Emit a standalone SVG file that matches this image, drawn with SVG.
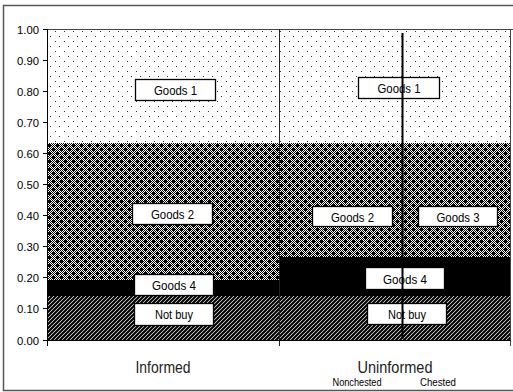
<svg xmlns="http://www.w3.org/2000/svg" width="513" height="392" viewBox="0 0 513 392">
  <style>
    .tick { stroke: #000; stroke-width: 1; }
    .ylab { font-family: "Liberation Sans", Arial, sans-serif; font-size: 10.5px; text-anchor: end; fill: #000; }
    .cat { font-family: "Liberation Sans", Arial, sans-serif; font-size: 17px; text-anchor: middle; fill: #222; }
    .sub { font-family: "Liberation Sans", Arial, sans-serif; font-size: 10px; text-anchor: middle; fill: #000; }
    .box rect { fill: #fff; stroke: #000; stroke-width: 1.3; }
    .box text { font-family: "Liberation Sans", Arial, sans-serif; font-size: 12.5px; text-anchor: middle; fill: #000; }
  </style>
  <defs>
    <!-- sparse staggered dots -->
    <pattern id="dots" width="9" height="10" patternUnits="userSpaceOnUse">
      <rect width="9" height="10" fill="#fff"/>
      <rect x="1" y="1" width="1" height="1" fill="#333"/>
      <rect x="5" y="6" width="1" height="1" fill="#333"/>
    </pattern>
    <!-- 1px checker dither -->
    <pattern id="chk" width="2" height="2" patternUnits="userSpaceOnUse">
      <rect width="2" height="2" fill="#fff"/>
      <rect width="1" height="1" fill="#000"/>
      <rect x="1" y="1" width="1" height="1" fill="#000"/>
    </pattern>
    <!-- checker with small crosses -->
    <pattern id="cross" width="8" height="8" patternUnits="userSpaceOnUse">
      <rect width="8" height="8" fill="url(#chk)"/>
      <path d="M1,0h1v3h-1zM0,1h3v1h-3zM5,4h1v3h-1zM4,5h3v1h-3z" fill="#000"/>
    </pattern>
    <!-- dense diagonal hatching -->
    <pattern id="hatch" width="4" height="4" patternUnits="userSpaceOnUse">
      <rect width="4" height="4" fill="#fff"/>
      <path d="M-1,1L1,-1M0,4L4,0M3,5L5,3" stroke="#000" stroke-width="2.2"/>
    </pattern>
  </defs>

  <rect width="513" height="392" fill="#fff"/>
  <!-- outer frame -->
  <rect x="3.5" y="5.5" width="515" height="385" fill="none" stroke="#555" stroke-width="1.5"/>

  <!-- stacked bars -->
  <g id="informed-bar">
    <rect x="47" y="29" width="232" height="114" fill="url(#dots)"/>
    <rect x="47" y="143" width="232" height="137" fill="url(#cross)"/>
    <rect x="47" y="280" width="232" height="16" fill="#000"/>
    <rect x="47" y="296" width="232" height="44" fill="url(#hatch)"/>
  </g>
  <g id="uninformed-bar">
    <rect x="280" y="29" width="231" height="114" fill="url(#dots)"/>
    <rect x="280" y="143" width="231" height="114" fill="url(#cross)"/>
    <rect x="280" y="257" width="231" height="39" fill="#000"/>
    <rect x="280" y="296" width="231" height="44" fill="url(#hatch)"/>
  </g>

  <!-- plot frame and axes -->
  <g id="axes">
    <line x1="47" y1="29.5" x2="513" y2="29.5" stroke="#444" stroke-width="1"/>
    <line x1="510.5" y1="29" x2="510.5" y2="346" stroke="#444" stroke-width="1"/>
    <line x1="279.5" y1="29" x2="279.5" y2="346" stroke="#222" stroke-width="1"/>
    <line x1="47.5" y1="29" x2="47.5" y2="346" stroke="#000" stroke-width="1"/>
    <line x1="47" y1="340.5" x2="511" y2="340.5" stroke="#000" stroke-width="1"/>
    <g class="tick">
      <line x1="43" y1="29.5" x2="47" y2="29.5"/>
      <line x1="43" y1="60.5" x2="47" y2="60.5"/>
      <line x1="43" y1="91.5" x2="47" y2="91.5"/>
      <line x1="43" y1="122.5" x2="47" y2="122.5"/>
      <line x1="43" y1="153.5" x2="47" y2="153.5"/>
      <line x1="43" y1="184.5" x2="47" y2="184.5"/>
      <line x1="43" y1="215.5" x2="47" y2="215.5"/>
      <line x1="43" y1="246.5" x2="47" y2="246.5"/>
      <line x1="43" y1="277.5" x2="47" y2="277.5"/>
      <line x1="43" y1="308.5" x2="47" y2="308.5"/>
      <line x1="43" y1="340.5" x2="47" y2="340.5"/>
    </g>
    <text class="ylab" x="39" y="33.5" textLength="22" lengthAdjust="spacingAndGlyphs">1.00</text>
    <text class="ylab" x="39" y="64.5" textLength="22" lengthAdjust="spacingAndGlyphs">0.90</text>
    <text class="ylab" x="39" y="95.5" textLength="22" lengthAdjust="spacingAndGlyphs">0.80</text>
    <text class="ylab" x="39" y="126.5" textLength="22" lengthAdjust="spacingAndGlyphs">0.70</text>
    <text class="ylab" x="39" y="157.5" textLength="22" lengthAdjust="spacingAndGlyphs">0.60</text>
    <text class="ylab" x="39" y="188.5" textLength="22" lengthAdjust="spacingAndGlyphs">0.50</text>
    <text class="ylab" x="39" y="219.5" textLength="22" lengthAdjust="spacingAndGlyphs">0.40</text>
    <text class="ylab" x="39" y="250.5" textLength="22" lengthAdjust="spacingAndGlyphs">0.30</text>
    <text class="ylab" x="39" y="281.5" textLength="22" lengthAdjust="spacingAndGlyphs">0.20</text>
    <text class="ylab" x="39" y="312.5" textLength="22" lengthAdjust="spacingAndGlyphs">0.10</text>
    <text class="ylab" x="39" y="344.5" textLength="22" lengthAdjust="spacingAndGlyphs">0.00</text>
  </g>

  <!-- segment labels -->
  <g id="lbl-inf-goods1" class="box"><rect x="135.5" y="79.5" width="80" height="21"/><text x="175.5" y="95" textLength="43" lengthAdjust="spacingAndGlyphs">Goods 1</text></g>
  <g id="lbl-inf-goods2" class="box"><rect x="132.5" y="203.5" width="80" height="21"/><text x="172.5" y="219" textLength="43" lengthAdjust="spacingAndGlyphs">Goods 2</text></g>
  <g id="lbl-inf-goods4" class="box"><rect x="134.5" y="274.5" width="79" height="21"/><text x="174" y="290" textLength="44" lengthAdjust="spacingAndGlyphs">Goods 4</text></g>
  <g id="lbl-inf-notbuy" class="box"><rect x="134.5" y="303.5" width="79" height="22"/><text x="174" y="319" textLength="38" lengthAdjust="spacingAndGlyphs">Not buy</text></g>

  <g id="lbl-uninf-goods1" class="box"><rect x="358.5" y="77.5" width="81" height="21"/><text x="399" y="93" textLength="43" lengthAdjust="spacingAndGlyphs">Goods 1</text></g>
  <g id="lbl-uninf-goods2" class="box"><rect x="312.5" y="206.5" width="80" height="20"/><text x="352.5" y="221.5" textLength="43" lengthAdjust="spacingAndGlyphs">Goods 2</text></g>
  <g id="lbl-uninf-goods3" class="box"><rect x="418.5" y="206.5" width="79" height="20"/><text x="458" y="221.5" textLength="43" lengthAdjust="spacingAndGlyphs">Goods 3</text></g>
  <g id="lbl-uninf-goods4" class="box"><rect x="365.5" y="267.5" width="79" height="22"/><text x="405" y="283.5" textLength="44" lengthAdjust="spacingAndGlyphs">Goods 4</text></g>
  <g id="lbl-uninf-notbuy" class="box"><rect x="367.5" y="303.5" width="79" height="21"/><text x="407" y="319" textLength="38" lengthAdjust="spacingAndGlyphs">Not buy</text></g>

  <!-- split between nonchested and chested buyers -->
  <g id="connectors">
    <line x1="402.5" y1="33" x2="402.5" y2="339" stroke="#000" stroke-width="2"/>
  </g>

  <!-- category labels -->
  <text class="cat" x="163" y="373" textLength="55" lengthAdjust="spacingAndGlyphs">Informed</text>
  <text class="cat" x="395" y="373" textLength="75" lengthAdjust="spacingAndGlyphs">Uninformed</text>
  <text class="sub" x="357" y="386" textLength="49" lengthAdjust="spacingAndGlyphs">Nonchested</text>
  <text class="sub" x="438" y="386" textLength="36" lengthAdjust="spacingAndGlyphs">Chested</text>
</svg>
